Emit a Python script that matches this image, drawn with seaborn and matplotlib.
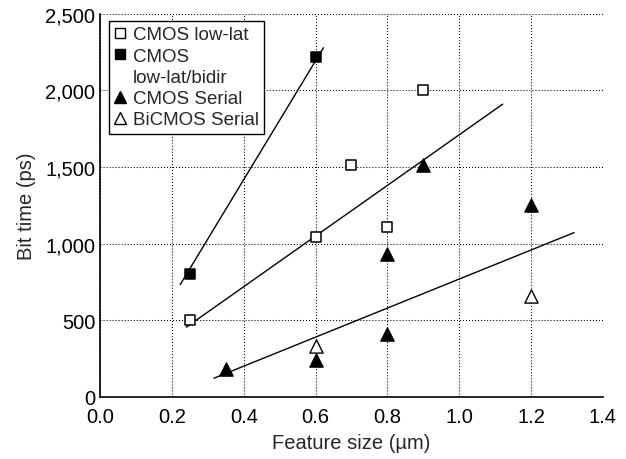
import matplotlib
matplotlib.use("Agg")
import matplotlib.pyplot as plt
import seaborn as sns
from matplotlib.lines import Line2D
from matplotlib.ticker import FuncFormatter

# Measured bit times (ps) versus feature size (um)
lowlat_x = [0.25, 0.6, 0.7, 0.8, 0.9]
lowlat_y = [500, 1040, 1510, 1110, 2000]

bidir_x = [0.25, 0.6]
bidir_y = [800, 2220]

serial_x = [0.35, 0.6, 0.8, 0.8, 0.9, 1.2]
serial_y = [185, 240, 410, 935, 1510, 1250]

bicmos_x = [0.6, 1.2]
bicmos_y = [330, 660]

# Trend lines (endpoints of each fitted segment)
trend_bidir_x = [0.223, 0.622]
trend_bidir_y = [733, 2278]
trend_lowlat_x = [0.24, 1.121]
trend_lowlat_y = [455, 1910]
trend_serial_x = [0.317, 1.320]
trend_serial_y = [122, 1072]

x_ticks = [0.0, 0.2, 0.4, 0.6, 0.8, 1.0, 1.2, 1.4]
y_ticks = [0, 500, 1000, 1500, 2000, 2500]

sns.set_style("white")
plt.rcParams["font.family"] = ["Liberation Sans", "DejaVu Sans"]

fig = plt.figure(figsize=(6.26, 4.6), dpi=100)
ax = fig.add_axes([0.16, 0.135, 0.803, 0.833])

for tx, ty in [(trend_bidir_x, trend_bidir_y),
               (trend_lowlat_x, trend_lowlat_y),
               (trend_serial_x, trend_serial_y)]:
    sns.lineplot(x=tx, y=ty, ax=ax, color="black", linewidth=1.0,
                 estimator=None, sort=False, zorder=2)

sq = 7.5 ** 2
tri = 9.5 ** 2
sns.scatterplot(x=lowlat_x, y=lowlat_y, ax=ax, marker="s", s=sq,
                facecolor="white", edgecolor="black", linewidth=1.1, zorder=3)
sns.scatterplot(x=bidir_x, y=bidir_y, ax=ax, marker="s", s=sq,
                color="black", edgecolor="black", linewidth=1.1, zorder=3)
sns.scatterplot(x=serial_x, y=serial_y, ax=ax, marker="^", s=tri,
                color="black", edgecolor="black", linewidth=1.0, zorder=3)
sns.scatterplot(x=bicmos_x, y=bicmos_y, ax=ax, marker="^", s=tri,
                facecolor="white", edgecolor="black", linewidth=1.0, zorder=3)

ax.set_xlim(0, 1.4)
ax.set_ylim(0, 2500)
ax.set_xticks(x_ticks)
ax.set_yticks(y_ticks)
ax.xaxis.set_major_formatter(FuncFormatter(lambda v, p: f"{v:.1f}"))
ax.yaxis.set_major_formatter(FuncFormatter(lambda v, p: f"{int(v):,}"))
ax.tick_params(axis="both", length=0, labelsize=14.5, colors="black")
ax.tick_params(axis="x", pad=7)
ax.tick_params(axis="y", pad=3.5)

ax.grid(True, linestyle=(0, (1, 1.9)), color="black", linewidth=0.75)
for side in ["top", "right"]:
    ax.spines[side].set_visible(False)
for side in ["left", "bottom"]:
    ax.spines[side].set_color("black")
    ax.spines[side].set_linewidth(1.2)

ax.set_xlabel("Feature size (\u00b5m)", fontsize=14.5, labelpad=5)
ax.set_ylabel("Bit time (ps)", fontsize=14.5, labelpad=7)

# Legend: the bidir label wraps onto a second row with no symbol
handles = [
    Line2D([], [], linestyle="none", marker="s", markersize=7,
           markerfacecolor="white", markeredgecolor="black"),
    Line2D([], [], linestyle="none", marker="s", markersize=7,
           markerfacecolor="black", markeredgecolor="black"),
    Line2D([], [], linestyle="none", marker="none"),
    Line2D([], [], linestyle="none", marker="^", markersize=8,
           markerfacecolor="black", markeredgecolor="black"),
    Line2D([], [], linestyle="none", marker="^", markersize=8,
           markerfacecolor="white", markeredgecolor="black"),
]
labels = ["CMOS low-lat", "CMOS", "low-lat/bidir", "CMOS Serial", "BiCMOS Serial"]
leg = ax.legend(handles, labels, loc="upper left", bbox_to_anchor=(0.018, 0.982),
                fontsize=13.5, frameon=True, fancybox=False, shadow=False,
                handlelength=0.6, handletextpad=0.35, borderpad=0.3,
                labelspacing=0.22, borderaxespad=0.0)
leg.get_frame().set_edgecolor("black")
leg.get_frame().set_linewidth(1.0)
leg.get_frame().set_alpha(1.0)

fig.savefig("out.png", dpi=100)
